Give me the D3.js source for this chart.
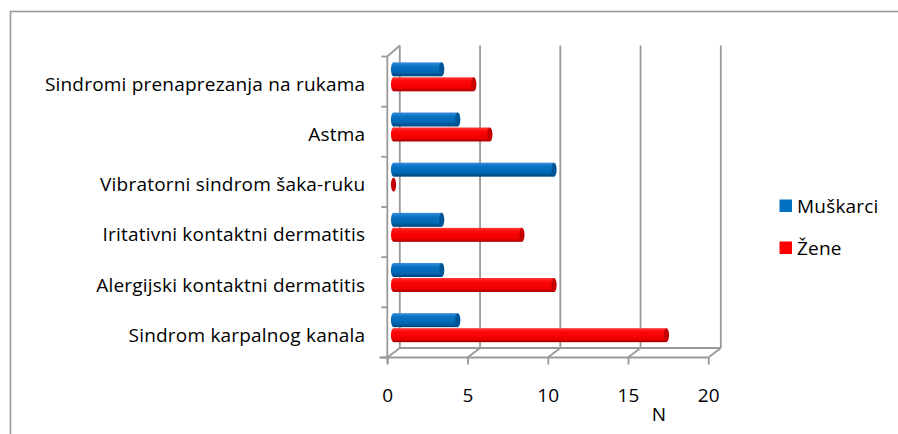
<!DOCTYPE html>
<html>
<head>
<meta charset="utf-8">
<script src="https://cdn.jsdelivr.net/npm/d3@7"></script>
<style>
  html, body { margin: 0; padding: 0; background: #fff; }
  svg text { font-family: "Open Sans", sans-serif; fill: #000; letter-spacing: 0.2px; }
</style>
</head>
<body>
<div id="chart"></div>
<script>
const width = 898;
const height = 434;

// bottom to top, as in the source
const categories = [
    "Sindrom karpalnog kanala",
    "Alergijski kontaktni dermatitis",
    "Iritativni kontaktni dermatitis",
    "Vibratorni sindrom šaka-ruku",
    "Astma",
    "Sindromi prenaprezanja na rukama"
];
const muskarci = [4, 3, 3, 10, 4, 3];
const zene = [17, 10, 8, 0, 6, 5];
const xTicks = [0, 5, 10, 15, 20];
const seriesNames = ["Muškarci", "Žene"];

const grid = "#999999";
const depth = { dx: 12.5, dy: -9.5 };
const fs = "19px";

const svg = d3.select("#chart")
    .append("svg")
    .attr("width", width)
    .attr("height", height);

const defs = svg.append("defs");
function cylGrad(id, stops) {
    const g = defs.append("linearGradient")
        .attr("id", id)
        .attr("x1", 0).attr("y1", 0).attr("x2", 0).attr("y2", 1);
    stops.forEach(([o, c]) => g.append("stop").attr("offset", o).attr("stop-color", c));
}
cylGrad("gBlue", [[0, "#3a8fdc"], [0.25, "#0a74c4"], [0.7, "#0068b4"], [1, "#00437a"]]);
cylGrad("gRed", [[0, "#ff3a3a"], [0.25, "#ff0808"], [0.75, "#f00000"], [1, "#a80000"]]);

// outer frame
svg.append("rect")
    .attr("x", 10.5).attr("y", 11.5)
    .attr("width", 1000).attr("height", 1000)
    .attr("fill", "none")
    .attr("stroke", "#9a9a9a")
    .attr("stroke-width", 1.6);

const x = d3.scaleLinear().domain([0, 20]).range([387.3, 708.3]);
const y = d3.scaleBand()
    .domain(categories.slice().reverse())
    .range([56.5, 357.5]);

const yTop = y.range()[0], yBottom = y.range()[1];
const back = svg.append("g");

// back wall gridlines
back.selectAll(".grid")
    .data(xTicks)
    .enter()
    .append("line")
    .attr("x1", d => x(d) + depth.dx)
    .attr("x2", d => x(d) + depth.dx)
    .attr("y1", yTop + depth.dy - 1.5)
    .attr("y2", yBottom + depth.dy)
    .attr("stroke", grid)
    .attr("stroke-width", 1.8);

// floor: back edge and depth lines
back.append("line")
    .attr("x1", x(0) + depth.dx).attr("x2", x(20) + depth.dx)
    .attr("y1", yBottom + depth.dy).attr("y2", yBottom + depth.dy)
    .attr("stroke", grid).attr("stroke-width", 1.8);
back.selectAll(".floor")
    .data(xTicks)
    .enter()
    .append("line")
    .attr("x1", d => x(d))
    .attr("x2", d => x(d) + depth.dx)
    .attr("y1", yBottom)
    .attr("y2", yBottom + depth.dy)
    .attr("stroke", grid)
    .attr("stroke-width", 1.8);
// side wall top edge
back.append("line")
    .attr("x1", x(0)).attr("x2", x(0) + depth.dx)
    .attr("y1", yTop).attr("y2", yTop + depth.dy - 1.5)
    .attr("stroke", grid).attr("stroke-width", 1.8);

// bars as cylinders, at mid depth
const mdx = depth.dx / 2, mdy = depth.dy / 2;
const barH = 14, rx = 2.6;
const rows = categories.map((c, i) => ({ cat: c, vals: [muskarci[i], zene[i]] }));
const barsG = svg.append("g");
const series = [
    { name: seriesNames[0], grad: "url(#gBlue)", cap: "#005596", off: -14.5 },
    { name: seriesNames[1], grad: "url(#gRed)", cap: "#c40000", off: 0.5 }
];

rows.forEach(r => {
    const cy = y(r.cat) + y.bandwidth() / 2 + mdy;
    series.forEach((s, si) => {
        const v = r.vals[si];
        const x0 = x(0) + mdx, x1 = x(v) + mdx;
        const yt = cy + s.off;
        const g = barsG.append("g");
        if (v > 0) {
            g.append("ellipse")
                .attr("cx", x0).attr("cy", yt + barH / 2)
                .attr("rx", rx).attr("ry", barH / 2)
                .attr("fill", s.grad);
            g.append("rect")
                .attr("x", x0).attr("y", yt)
                .attr("width", x1 - x0).attr("height", barH)
                .attr("fill", s.grad);
        }
        g.append("ellipse")
            .attr("cx", x1).attr("cy", yt + barH / 2)
            .attr("rx", rx).attr("ry", barH / 2)
            .attr("fill", s.cap);
    });
});

// front axes
const xAxis = svg.append("g")
    .attr("transform", `translate(0,${yBottom})`)
    .call(d3.axisBottom(x).tickValues(xTicks).tickSize(7).tickPadding(24).tickSizeOuter(0));
xAxis.select(".domain")
    .attr("d", `M${x(0) - 8},0H${x(20)}`)
    .attr("stroke", grid).attr("stroke-width", 1.8);
xAxis.selectAll(".tick line").attr("stroke", grid).attr("stroke-width", 1.8);
xAxis.selectAll(".tick text")
    .style("font-size", fs)
    .attr("fill", "#000");

const yAxis = svg.append("g")
    .attr("transform", `translate(${x(0)},0)`)
    .call(d3.axisLeft(y).tickSize(0).tickPadding(22));
yAxis.select(".domain")
    .attr("d", `M0,${yTop}V${yBottom + 6}`)
    .attr("stroke", grid).attr("stroke-width", 1.8);
yAxis.selectAll(".tick text")
    .style("font-size", fs)
    .attr("fill", "#000")
    .attr("y", 3.3);

// category boundary ticks
const bounds = y.domain().map(d => y(d)).concat([yBottom]);
yAxis.selectAll(".bound")
    .data(bounds)
    .enter()
    .append("line")
    .attr("x1", -6).attr("x2", 0)
    .attr("y1", d => d).attr("y2", d => d)
    .attr("stroke", grid).attr("stroke-width", 1.8);

svg.append("text")
    .attr("x", 659)
    .attr("y", 420.5)
    .attr("text-anchor", "middle")
    .style("font-size", fs)
    .text("N");

// legend
const legendColors = ["#0070c0", "#ff0000"];
const legend = svg.append("g");
seriesNames.forEach((n, i) => {
    const ly = 206 + i * 42;
    legend.append("rect")
        .attr("x", 779.5).attr("y", ly - 6.5)
        .attr("width", 12.5).attr("height", 12.5)
        .attr("fill", legendColors[i]);
    legend.append("text")
        .attr("x", 797)
        .attr("y", ly)
        .attr("dy", "0.36em")
        .style("font-size", fs)
        .text(n);
});
</script>
</body>
</html>
